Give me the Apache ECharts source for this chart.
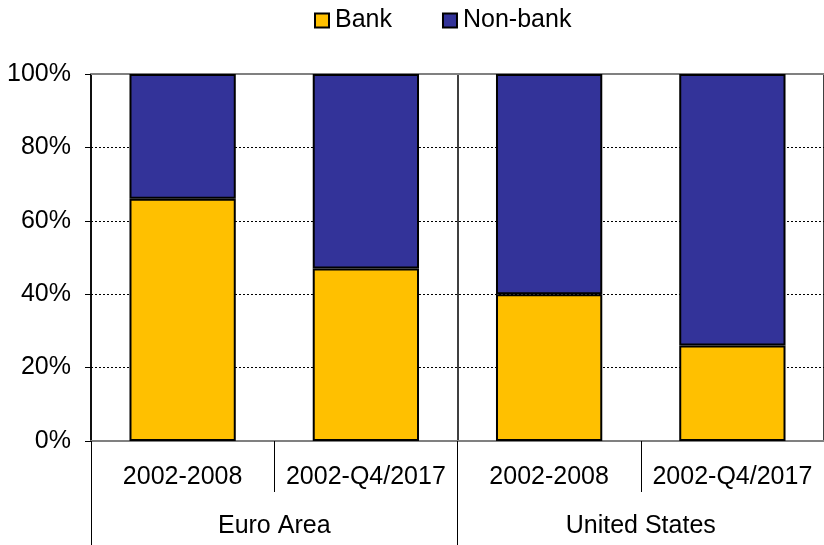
<!DOCTYPE html>
<html><head><meta charset="utf-8">
<script src="https://cdn.jsdelivr.net/npm/echarts@6/dist/echarts.min.js"></script>
<style>html,body{margin:0;padding:0;background:#fff}#c{width:824px;height:545px}</style>
</head><body><div id="c"></div>
<script>
const categories = ['2002-2008', '2002-Q4/2017', '2002-2008', '2002-Q4/2017'];
const groups = ['Euro Area', 'United States'];
const bankValues = [66, 47, 40, 26];
const nonBankValues = [34, 53, 60, 74];
const yTicks = [0, 20, 40, 60, 80, 100];

const font = 'Liberation Sans';
const chart = echarts.init(document.getElementById('c'));
chart.setOption({
  animation: false,
  textStyle: { fontFamily: font },
  legend: {
    top: 3, left: 309,
    itemWidth: 14, itemHeight: 14, itemGap: 50,
    icon: 'rect',
    textStyle: { fontSize: 25, color: '#000', fontFamily: font, padding: [0, 0, 0, 1] },
    data: ['Bank', 'Non-bank']
  },
  grid: { left: 91, right: 0, top: 74, bottom: 104 },
  xAxis: [
    {
      type: 'category', data: categories, position: 'bottom',
      axisLine: { show: true, lineStyle: { color: '#808080', width: 2 } },
      axisTick: { show: true, interval: 0, length: 51, lineStyle: { color: '#000' } },
      axisLabel: { interval: 0, fontSize: 25, color: '#000', margin: 24, fontFamily: font },
      splitLine: { show: false }
    },
    {
      type: 'category', data: groups, position: 'bottom',
      axisLine: { show: false },
      axisTick: { show: true, interval: 0, length: 104, lineStyle: { color: '#000' } },
      axisLabel: { interval: 0, fontSize: 25, color: '#000', margin: 73, fontFamily: font },
      splitLine: { show: true, interval: 0, lineStyle: { color: '#000', width: 1.5 } }
    },
    {
      type: 'category', data: categories, position: 'top',
      axisLine: { show: true, lineStyle: { color: '#808080', width: 2 } },
      axisTick: { show: false }, axisLabel: { show: false }
    }
  ],
  yAxis: {
    type: 'value', min: 0, max: 100, interval: 20,
    axisLine: { show: true, lineStyle: { color: '#000', width: 1.5 } },
    axisTick: { show: true, length: 6, lineStyle: { color: '#000' } },
    axisLabel: { fontSize: 25, color: '#000', margin: 20, formatter: v => yTicks.includes(v) ? v + '%' : '', fontFamily: font },
    splitLine: { show: true, lineStyle: { color: '#000', type: [2, 2], width: 1 } }
  },
  series: [
    {
      name: 'Bank', type: 'bar', stack: 's', data: bankValues, barWidth: '58%',
      xAxisIndex: 0,
      itemStyle: { color: '#FFC000', borderColor: '#000', borderWidth: 2 }
    },
    {
      name: 'Non-bank', type: 'bar', stack: 's', data: nonBankValues, barWidth: '58%',
      xAxisIndex: 0,
      itemStyle: { color: '#333399', borderColor: '#000', borderWidth: 2 }
    }
  ]
});
</script></body></html>
